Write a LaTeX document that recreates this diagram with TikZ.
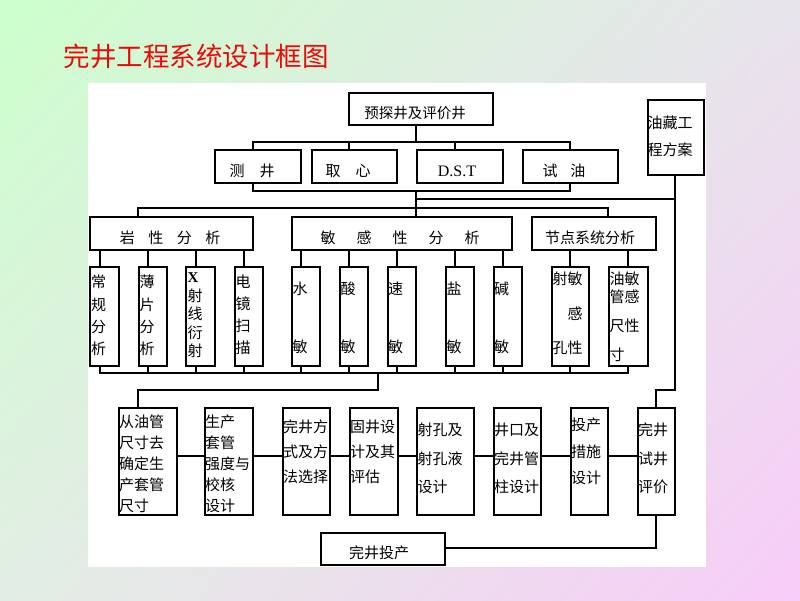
\documentclass[tikz,border=0pt]{standalone}
\usepackage{fontspec}
\usetikzlibrary{shadings}
\newfontfamily\cjk{Noto Sans CJK SC}
\newfontfamily\lat{Liberation Serif}
\definecolor{bgUL}{RGB}{204,255,204}
\definecolor{bgUR}{RGB}{232,228,236}
\definecolor{bgLL}{RGB}{226,238,228}
\definecolor{bgLR}{RGB}{248,204,248}
\definecolor{titlered}{RGB}{235,10,10}
\begin{document}
\begin{tikzpicture}[x=1pt,y=-1pt,
  box/.style={draw,line width=1.8pt,fill=white,inner sep=0pt,anchor=north west},
  conn/.style={line width=1.8pt},
  thinconn/.style={line width=1.1pt},
  lbl/.style={font=\cjk\fontsize{15}{16}\selectfont,inner sep=0pt},
  mlbl/.style={inner sep=0pt,align=left,anchor=north west}]
\useasboundingbox (0,0) rectangle (800,600);
\shade[upper left=bgUL,upper right=bgUR,lower left=bgLL,lower right=bgLR] (0,0) rectangle (800,600);
\fill[white] (88,83) rectangle (706,567);
\node[font=\cjk\fontsize{26.5}{28}\selectfont,text=titlered,inner sep=0pt] (title) at (196,56) {完井工程系统设计框图};

% ---- boxes ----
\node[box,minimum width=144,minimum height=32] (tp) at (348,92) {};
\node[box,minimum width=86,minimum height=33] (m1) at (214,149) {};
\node[box,minimum width=85,minimum height=33] (m2) at (311,149) {};
\node[box,minimum width=86,minimum height=33] (m3) at (416,149) {};
\node[box,minimum width=95,minimum height=33] (m4) at (522,149) {};
\node[box,minimum width=56,minimum height=75] (yz) at (647,99) {};
\node[box,minimum width=163,minimum height=33] (r1) at (89,216) {};
\node[box,minimum width=220,minimum height=33] (r2) at (291,216) {};
\node[box,minimum width=124,minimum height=33] (r3) at (531,216) {};
\node[box,minimum width=29,minimum height=99] (a1) at (89,266) {};
\node[box,minimum width=28,minimum height=99] (a2) at (138,266) {};
\node[box,minimum width=29,minimum height=99] (a3) at (185,266) {};
\node[box,minimum width=28,minimum height=99] (a4) at (234,266) {};
\node[box,minimum width=28,minimum height=99] (b1) at (291,266) {};
\node[box,minimum width=28,minimum height=99] (b2) at (339,266) {};
\node[box,minimum width=28,minimum height=99] (b3) at (387,266) {};
\node[box,minimum width=28,minimum height=99] (b4) at (445,266) {};
\node[box,minimum width=28,minimum height=99] (b5) at (493,266) {};
\node[box,minimum width=37,minimum height=99] (c1) at (551,266) {};
\node[box,minimum width=39,minimum height=99] (c2) at (608,266) {};
\node[box,minimum width=58,minimum height=107] (p1) at (118,407) {};
\node[box,minimum width=48,minimum height=107] (p2) at (204,407) {};
\node[box,minimum width=47,minimum height=107] (p3) at (282,407) {};
\node[box,minimum width=48,minimum height=107] (p4) at (349,407) {};
\node[box,minimum width=57,minimum height=107] (p5) at (416,407) {};
\node[box,minimum width=47,minimum height=107] (p6) at (493,407) {};
\node[box,minimum width=37,minimum height=107] (p7) at (570,407) {};
\node[box,minimum width=37,minimum height=107] (p8) at (637,407) {};
\node[box,minimum width=124,minimum height=32] (tc) at (320,532) {};

% ---- single-line labels ----
\node[lbl,font=\cjk\fontsize{14.5}{16}\selectfont] (ltp) at (415,113) {预探井及评价井};
\node[lbl] (lm1) at (252,171) {测\hspace{15pt}井};
\node[lbl] (lm2) at (348,171) {取\hspace{15pt}心};
\node[inner sep=0pt,font=\lat\fontsize{16}{18}\selectfont] (lm3) at (457,171) {D.S.T};
\node[lbl] (lm4) at (564,171) {试\hspace{13pt}油};
\node[lbl] (lr1) at (170,238) {岩\hspace{13.5pt}性\hspace{13.5pt}分\hspace{13.5pt}析};
\node[lbl] (lr2) at (400,238) {敏\hspace{21pt}感\hspace{21pt}性\hspace{21pt}分\hspace{21pt}析};
\node[lbl] (lr3) at (590,238) {节点系统分析};
\node[lbl] (ltc) at (379,553) {完井投产};

% ---- multi-line labels ----
\node[mlbl,font=\cjk\fontsize{15}{27}\selectfont] (lyz) at (647.5,116) {油藏工\\程方案};
\node[mlbl,font=\cjk\fontsize{15}{22.3}\selectfont] (la1) at (91,275) {常\\规\\分\\析};
\node[mlbl,font=\cjk\fontsize{15}{22.3}\selectfont] (la2) at (139.5,275) {薄\\片\\分\\析};
\node[mlbl,font=\cjk\fontsize{15}{18.5}\selectfont] (la3) at (187.5,272.5) {{\lat\bfseries X}\\射\\线\\衍\\射};
\node[mlbl,font=\cjk\fontsize{15}{22}\selectfont] (la4) at (235.5,275) {电\\镜\\扫\\描};
\node[mlbl,font=\cjk\fontsize{15}{58}\selectfont] (lb1) at (292.5,282) {水\\敏};
\node[mlbl,font=\cjk\fontsize{15}{58}\selectfont] (lb2) at (340.5,282) {酸\\敏};
\node[mlbl,font=\cjk\fontsize{15}{58}\selectfont] (lb3) at (388,282) {速\\敏};
\node[mlbl,font=\cjk\fontsize{15}{58}\selectfont] (lb4) at (446.5,282) {盐\\敏};
\node[mlbl,font=\cjk\fontsize{15}{58}\selectfont] (lb5) at (494,282) {碱\\敏};
\node[mlbl,font=\cjk\fontsize{15}{34.5}\selectfont] (lc1) at (552.5,272) {射敏\\\phantom{射}感\\孔性};
\node[mlbl,font=\cjk\fontsize{15}{18}\selectfont] (lc2) at (609.5,272) {油敏\\管感\\[11pt]尺性\\[11pt]寸};
\node[mlbl,font=\cjk\fontsize{15}{20.8}\selectfont] (lp1) at (119,415) {从油管\\尺寸去\\确定生\\产套管\\尺寸};
\node[mlbl,font=\cjk\fontsize{15}{20.8}\selectfont] (lp2) at (205,415) {生产\\套管\\强度与\\校核\\设计};
\node[mlbl,font=\cjk\fontsize{15}{25}\selectfont] (lp3) at (283,420) {完井方\\式及方\\法选择};
\node[mlbl,font=\cjk\fontsize{15}{25}\selectfont] (lp4) at (350,420) {固井设\\计及其\\评估};
\node[mlbl,font=\cjk\fontsize{15}{28.5}\selectfont] (lp5) at (417.5,423) {射孔及\\射孔液\\设计};
\node[mlbl,font=\cjk\fontsize{15}{28.5}\selectfont] (lp6) at (494,423) {井口及\\完井管\\柱设计};
\node[mlbl,font=\cjk\fontsize{15}{26.5}\selectfont] (lp7) at (571,418) {投产\\措施\\设计};
\node[mlbl,font=\cjk\fontsize{15}{28.5}\selectfont] (lp8) at (638,423) {完井\\试井\\评价};

% ---- junction coordinates ----
\coordinate (j0) at (416,142);
\coordinate (t1) at (253,142);
\coordinate (t2) at (349,142);
\coordinate (t3) at (455,142);
\coordinate (t4) at (570,142);
\coordinate (u1) at (253,191);
\coordinate (u4) at (570,191);
\coordinate (k0) at (416,191);
\coordinate (h1) at (416,199);
\coordinate (yzj) at (675,199);
\coordinate (v1) at (138,208);
\coordinate (v3) at (608,208);
\coordinate (x1) at (100,373);
\coordinate (x2) at (148,373);
\coordinate (x3) at (196,373);
\coordinate (x4) at (244,373);
\coordinate (x5) at (301,373);
\coordinate (x6) at (349,373);
\coordinate (x7) at (397,373);
\coordinate (x8) at (455,373);
\coordinate (x9) at (503,373);
\coordinate (x10) at (570,373);
\coordinate (x11) at (628,373);
\coordinate (w0) at (378,373);
\coordinate (w1) at (378,390);
\coordinate (w2) at (138,390);
\coordinate (ry) at (0,456);
\coordinate (q0) at (656,548);
\coordinate (z1) at (675,390);
\coordinate (z2) at (656,390);

% ---- connectors ----
\draw[conn] (tp.south -| j0) -- (j0);
\draw[conn] (m1.north -| t1) -- (t1) -- (t4) -- (m4.north -| t4);
\draw[conn] (t2) -- (m2.north -| t2);
\draw[conn] (t3) -- (m3.north -| t3);
\draw[conn] (m1.south -| u1) -- (u1) -- (u4) -- (m4.south -| u4);
\draw[conn] (k0) -- (r2.north -| k0);
\draw[conn] (h1) -- (yzj);
\draw[conn] (r1.north -| v1) -- (v1) -- (v3) -- (r3.north -| v3);
\draw[conn] (yz.south -| yzj) -- (z1) -- (z2) -- (p8.north -| z2);

\draw[conn] (r1.south -| x1) -- (a1.north -| x1);
\draw[conn] (r1.south -| x2) -- (a2.north -| x2);
\draw[conn] (r1.south -| x3) -- (a3.north -| x3);
\draw[conn] (r1.south -| x4) -- (a4.north -| x4);
\draw[conn] (r2.south -| x5) -- (b1.north -| x5);
\draw[conn] (r2.south -| x6) -- (b2.north -| x6);
\draw[conn] (r2.south -| x7) -- (b3.north -| x7);
\draw[conn] (r2.south -| x8) -- (b4.north -| x8);
\draw[conn] (r2.south -| x9) -- (b5.north -| x9);
\draw[conn] (r3.south -| x10) -- (c1.north -| x10);
\draw[conn] (r3.south -| x11) -- (c2.north -| x11);

\draw[conn] (a1.south -| x1) -- (x1) -- (x11) -- (c2.south -| x11);
\draw[conn] (a2.south -| x2) -- (x2);
\draw[conn] (a3.south -| x3) -- (x3);
\draw[conn] (a4.south -| x4) -- (x4);
\draw[conn] (b1.south -| x5) -- (x5);
\draw[conn] (b2.south -| x6) -- (x6);
\draw[conn] (b3.south -| x7) -- (x7);
\draw[conn] (b4.south -| x8) -- (x8);
\draw[conn] (b5.south -| x9) -- (x9);
\draw[conn] (c1.south -| x10) -- (x10);
\draw[conn] (w0) -- (w1) -- (w2) -- (p1.north -| w2);

\draw[thinconn] (p1.east |- ry) -- (p2.west |- ry);
\draw[thinconn] (p2.east |- ry) -- (p3.west |- ry);
\draw[thinconn] (p3.east |- ry) -- (p4.west |- ry);
\draw[thinconn] (p4.east |- ry) -- (p5.west |- ry);
\draw[thinconn] (p5.east |- ry) -- (p6.west |- ry);
\draw[thinconn] (p6.east |- ry) -- (p7.west |- ry);
\draw[thinconn] (p7.east |- ry) -- (p8.west |- ry);
\draw[conn] (p8.south -| q0) -- (q0) -- (tc.east |- q0);
\end{tikzpicture}
\end{document}
